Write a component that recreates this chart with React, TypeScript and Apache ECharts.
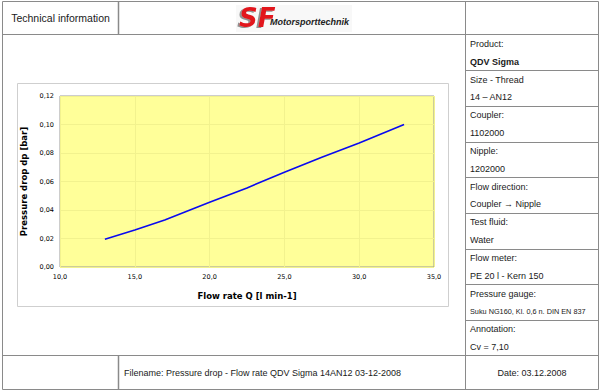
import React, { useEffect, useRef } from "react";
import * as echarts from "echarts";

const flowRate: number[] = [13, 15, 17, 20, 22.5, 25, 27.5, 30, 33];
const pressureDrop: number[] = [0.0195, 0.026, 0.033, 0.0455, 0.0555, 0.0665, 0.077, 0.087, 0.1];

const xTicks = { min: 10, max: 35, interval: 5 };
const yTicks = { min: 0, max: 0.12, interval: 0.02 };

const headerTitle = "Technical information";
const logoMain = "SF";
const logoSub = "Motorsporttechnik";
const infoLabels: string[] = [
  "Product:",
  "Size - Thread",
  "Coupler:",
  "Nipple:",
  "Flow direction:",
  "Test fluid:",
  "Flow meter:",
  "Pressure gauge:",
  "Annotation:",
];
const infoValues: string[] = [
  "QDV Sigma",
  "14 – AN12",
  "1102000",
  "1202000",
  "Coupler → Nipple",
  "Water",
  "PE 20 l - Kern 150",
  "Suku NG160, Kl. 0,6 n. DIN EN 837",
  "Cv = 7,10",
];
const footerFile = "Filename: Pressure drop - Flow rate QDV Sigma 14AN12 03-12-2008";
const footerDate = "Date: 03.12.2008";
const xName = "Flow rate Q [l min-1]";
const yName = "Pressure drop dp [bar]";

export default function App() {
  const ref = useRef<HTMLDivElement>(null);
  useEffect(() => {
    if (!ref.current) return;
    const chart = echarts.init(ref.current, undefined, { renderer: "svg" });
    const lineColor = "#8a8a8a";
    const font = "'Liberation Sans', Arial, sans-serif";
    const textColor = "#1a1a1a";
    const L = 2.5, R = 598.5, T = 1.5, B = 389.5;
    const headB = 34.5, footT = 355.5, colA = 118.5, colB = 465.5;
    const rowH = (footT - headB) / 9;

    const g: any[] = [];
    // chart box
    g.push({ type: "rect", z: -10, shape: { x: 17.5, y: 83.5, width: 431, height: 223 }, style: { fill: "#fff", stroke: "#cfcfcf", lineWidth: 1 } });
    // logo backdrop
    g.push({ type: "rect", z: -5, shape: { x: 236, y: 5, width: 116, height: 27 }, style: { fill: "#f8f8f8" } });
    // table
    g.push({ type: "rect", shape: { x: L, y: T, width: R - L, height: B - T }, style: { fill: "none", stroke: lineColor, lineWidth: 1 } });
    g.push({ type: "line", shape: { x1: L, y1: headB, x2: R, y2: headB }, style: { stroke: lineColor, lineWidth: 1 } });
    g.push({ type: "line", shape: { x1: L, y1: footT, x2: R, y2: footT }, style: { stroke: lineColor, lineWidth: 1 } });
    g.push({ type: "line", shape: { x1: colA, y1: T, x2: colA, y2: headB }, style: { stroke: lineColor, lineWidth: 1.5 } });
    g.push({ type: "line", shape: { x1: colA, y1: footT, x2: colA, y2: B }, style: { stroke: lineColor, lineWidth: 1.5 } });
    g.push({ type: "line", shape: { x1: colB, y1: T, x2: colB, y2: B }, style: { stroke: lineColor, lineWidth: 1 } });
    for (let k = 1; k < 9; k++) {
      const y = Math.round(headB + k * rowH) + 0.5;
      g.push({ type: "line", shape: { x1: colB, y1: y, x2: R, y2: y }, style: { stroke: lineColor, lineWidth: 1 } });
    }
    // header texts
    g.push({ type: "text", x: 60.5, y: 18, style: { text: headerTitle, font: `10.5px ${font}`, fill: textColor, textAlign: "center", textVerticalAlign: "middle" } });
    g.push({
      type: "text", x: 239, y: 17.5,
      style: {
        text: logoMain, font: "italic 900 26px 'DejaVu Sans'", fill: "#e2141c", textVerticalAlign: "middle",
        textShadowColor: "rgba(120,120,120,0.8)", textShadowOffsetX: -2, textShadowOffsetY: 1, textShadowBlur: 1,
      },
    });
    g.push({ type: "text", x: 270, y: 22, style: { text: logoSub, font: `italic bold 9px ${font}`, fill: "#222", textVerticalAlign: "middle" } });
    // info column
    for (let k = 0; k < 9; k++) {
      const top = headB + k * rowH;
      g.push({ type: "text", x: 470, y: top + 9.5, style: { text: infoLabels[k], font: `9px ${font}`, fill: textColor, textVerticalAlign: "middle" } });
      g.push({
        type: "text", x: 470, y: top + 27,
        style: { text: infoValues[k], font: `${k === 0 ? "bold " : ""}${k === 7 ? "7.3px" : "9px"} ${font}`, fill: textColor, textVerticalAlign: "middle" },
      });
    }
    // footer
    g.push({ type: "text", x: 124, y: 373, style: { text: footerFile, font: `9px ${font}`, fill: textColor, textVerticalAlign: "middle" } });
    g.push({ type: "text", x: 532, y: 373, style: { text: footerDate, font: `9px ${font}`, fill: textColor, textAlign: "center", textVerticalAlign: "middle" } });

    const tickFont = "'DejaVu Sans', Verdana, sans-serif";
    chart.setOption({
      animation: false,
      grid: { left: 60, top: 96, right: 166, bottom: 123, show: true, backgroundColor: "#ffff99", borderColor: "#9a9a9a", borderWidth: 1 },
      xAxis: {
        type: "value", min: xTicks.min, max: xTicks.max, interval: xTicks.interval,
        name: xName, nameLocation: "middle", nameGap: 24,
        nameTextStyle: { fontFamily: tickFont, fontWeight: "bold", fontSize: 8.5, color: "#000" },
        axisLine: { show: false }, axisTick: { show: false },
        axisLabel: { fontFamily: tickFont, fontSize: 6.5, color: "#000", margin: 6, formatter: (v: number) => v.toFixed(1).replace(".", ",") },
        splitLine: { show: true, lineStyle: { color: "#f2f28e", width: 1 } },
      },
      yAxis: {
        type: "value", min: yTicks.min, max: yTicks.max, interval: yTicks.interval,
        name: yName, nameLocation: "middle", nameGap: 27, nameRotate: 90,
        nameTextStyle: { fontFamily: tickFont, fontWeight: "bold", fontSize: 8.5, color: "#000" },
        axisLine: { show: false }, axisTick: { show: false },
        axisLabel: { fontFamily: tickFont, fontSize: 6.5, color: "#000", margin: 6, formatter: (v: number) => v.toFixed(2).replace(".", ",") },
        splitLine: { show: true, lineStyle: { color: "#f2f28e", width: 1 } },
      },
      series: [
        {
          type: "line",
          data: flowRate.map((q, i) => [q, pressureDrop[i]]),
          showSymbol: false, symbol: "none",
          lineStyle: { color: "#0a0af0", width: 1.6 },
        },
      ],
      graphic: g,
    });
    return () => chart.dispose();
  }, []);
  return <div ref={ref} style={{ position: "absolute", left: 0, top: 0, width: 600, height: 390, background: "#fff" }} />;
}
